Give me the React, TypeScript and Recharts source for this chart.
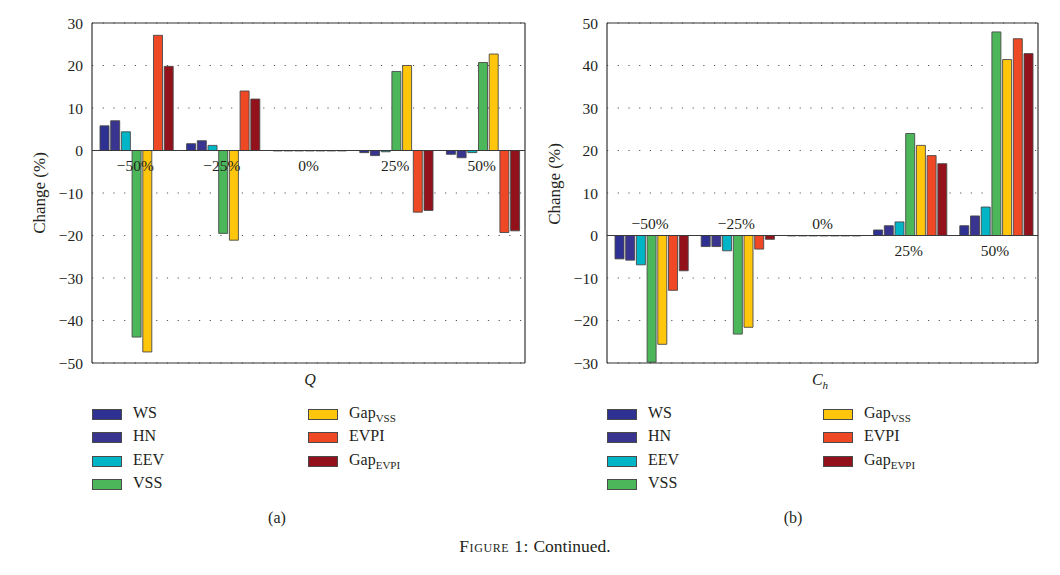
import React from 'react';
import {
  ComposedChart,
  Bar,
  Line,
  XAxis,
  YAxis,
  CartesianGrid,
  ReferenceLine,
  LabelList,
} from 'recharts';

// ---------- data ----------
const categories = ['−50%', '−25%', '0%', '25%', '50%'];

const qWS = [5.8, 1.6, -0.1, -0.5, -0.9];
const qHN = [7.0, 2.3, -0.1, -1.2, -1.7];
const qEEV = [4.4, 1.2, -0.1, -0.3, -0.5];
const qVSS = [-43.9, -19.5, -0.1, 18.6, 20.7];
const qGapVSS = [-47.4, -21.1, -0.1, 20.0, 22.7];
const qEVPI = [27.1, 14.0, -0.1, -14.5, -19.3];
const qGapEVPI = [19.8, 12.1, -0.1, -14.1, -18.9];

const chWS = [-5.5, -2.6, -0.1, 1.3, 2.3];
const chHN = [-5.8, -2.6, -0.1, 2.3, 4.6];
const chEEV = [-6.9, -3.6, -0.1, 3.2, 6.7];
const chVSS = [-29.8, -23.2, -0.1, 24.0, 47.9];
const chGapVSS = [-25.6, -21.6, -0.1, 21.2, 41.4];
const chEVPI = [-12.9, -3.2, -0.1, 18.8, 46.3];
const chGapEVPI = [-8.3, -0.9, -0.1, 16.9, 42.8];

const qTicks = [-50, -40, -30, -20, -10, 0, 10, 20, 30];
const chTicks = [-30, -20, -10, 0, 10, 20, 30, 40, 50];

const seriesKeys = ['WS', 'HN', 'EEV', 'VSS', 'GapVSS', 'EVPI', 'GapEVPI'];
const seriesBase = ['WS', 'HN', 'EEV', 'VSS', 'Gap', 'EVPI', 'Gap'];
const seriesSub = ['', '', '', '', 'VSS', '', 'EVPI'];
const seriesColors = ['#2E3192', '#38348F', '#00B5C6', '#4BB75A', '#FFC60B', '#EE4824', '#93111B'];

const qLabelBelow = [true, true, true, true, true];
const chLabelBelow = [false, false, false, true, true];

const minorTicks = Array.from({ length: 45 }, (_, i) => i);

const FONT = '"Liberation Serif", "DejaVu Serif", serif';
const INK = '#231f20';

function buildData(cols: number[][]) {
  return categories.map((c, i) => {
    const row: Record<string, any> = { cat: c, zero: 0 };
    seriesKeys.forEach((k, j) => {
      row[k] = cols[j][i];
    });
    return row;
  });
}

const qData = buildData([qWS, qHN, qEEV, qVSS, qGapVSS, qEVPI, qGapEVPI]);
const chData = buildData([chWS, chHN, chEEV, chVSS, chGapVSS, chEVPI, chGapEVPI]);

const fmtTick = (v: number) => (v < 0 ? '−' + Math.abs(v) : String(v));

function Panel({
  data,
  ticks,
  labelBelow,
  yWidth,
  rightMargin,
}: {
  data: any[];
  ticks: number[];
  labelBelow: boolean[];
  yWidth: number;
  rightMargin: number;
}) {
  const domain: [number, number] = [ticks[0], ticks[ticks.length - 1]];
  return (
    <ComposedChart
      width={532}
      height={400}
      data={data}
      margin={{ top: 15, right: rightMargin, bottom: 45, left: 0 }}
      barCategoryGap={8}
      barGap={1.7}
    >
      <CartesianGrid
        xAxisId="cat"
        yAxisId="main"
        vertical={false}
        stroke="#555"
        strokeDasharray="1.2 9.5"
      />
      <XAxis xAxisId="cat" dataKey="cat" type="category" hide />
      <XAxis
        xAxisId="minor"
        type="number"
        domain={[0, minorTicks.length - 1]}
        ticks={minorTicks}
        allowDataOverflow
        mirror
        tick={false}
        tickSize={3}
        axisLine={{ stroke: '#333', strokeWidth: 1.2 }}
        tickLine={{ stroke: '#666' }}
      />
      <YAxis
        yAxisId="main"
        type="number"
        domain={domain}
        ticks={ticks}
        allowDataOverflow
        width={yWidth}
        tickSize={0}
        tickMargin={9}
        tickFormatter={fmtTick}
        axisLine={{ stroke: '#333', strokeWidth: 1.2 }}
        tickLine={false}
        tick={{ fontFamily: FONT, fontSize: 15.5, fill: INK }}
      />
      <YAxis
        yAxisId="leftTicks"
        type="number"
        domain={domain}
        ticks={ticks}
        allowDataOverflow
        mirror
        tick={false}
        tickSize={4}
        axisLine={false}
        tickLine={{ stroke: '#555' }}
      />
      <YAxis
        yAxisId="rightTicks"
        orientation="right"
        type="number"
        domain={domain}
        ticks={ticks}
        allowDataOverflow
        mirror
        tick={false}
        tickSize={4}
        axisLine={{ stroke: '#333', strokeWidth: 1.2 }}
        tickLine={{ stroke: '#555' }}
      />
      <ReferenceLine xAxisId="cat" yAxisId="main" y={domain[1]} stroke="#333" strokeWidth={1.2} />
      {seriesKeys.map((k, j) => (
        <Bar
          key={k}
          xAxisId="cat"
          yAxisId="main"
          dataKey={k}
          fill={seriesColors[j]}
          stroke="#4a4a4a"
          strokeWidth={0.9}
          isAnimationActive={false}
        />
      ))}
      <ReferenceLine xAxisId="cat" yAxisId="main" y={0} stroke="#3a3a3a" strokeWidth={1} />
      <Line
        xAxisId="cat"
        yAxisId="main"
        dataKey="zero"
        stroke="none"
        dot={false}
        activeDot={false}
        isAnimationActive={false}
      >
        <LabelList
          dataKey="cat"
          content={(p: any) => {
            const idx = typeof p.index === 'number' ? p.index : categories.indexOf(p.value);
            const below = labelBelow[idx];
            return (
              <text
                x={p.x}
                y={p.y + (below ? 15 : -12)}
                textAnchor="middle"
                dominantBaseline="central"
                fontFamily={FONT}
                fontSize={15.5}
                fill={INK}
              >
                {p.value}
              </text>
            );
          }}
        />
      </Line>
    </ComposedChart>
  );
}

function LegendBlock({ left, top }: { left: number; top: number }) {
  const col1 = [0, 1, 2, 3];
  const col2 = [4, 5, 6];
  const item = (j: number, x: number, y: number) => (
    <div
      key={seriesKeys[j]}
      style={{ position: 'absolute', left: x, top: y, height: 0 }}
    >
      <div
        style={{
          position: 'absolute',
          left: 0,
          top: -5,
          width: 28,
          height: 9,
          background: seriesColors[j],
          border: '1px solid #4a4a4a',
        }}
      />
      <div
        style={{
          position: 'absolute',
          left: 41,
          top: -11,
          whiteSpace: 'nowrap',
          fontFamily: FONT,
          fontSize: 16,
          lineHeight: '20px',
          color: INK,
        }}
      >
        {seriesBase[j]}
        {seriesSub[j] ? (
          <span style={{ fontSize: 11, position: 'relative', top: 4 }}>{seriesSub[j]}</span>
        ) : null}
      </div>
    </div>
  );
  return (
    <div style={{ position: 'absolute', left, top }}>
      {col1.map((j, r) => item(j, 0, r * 23.3))}
      {col2.map((j, r) => item(j, 216, r * 23.3))}
    </div>
  );
}

function CenterText({
  x,
  y,
  children,
  style,
}: {
  x: number;
  y: number;
  children: React.ReactNode;
  style?: React.CSSProperties;
}) {
  return (
    <div
      style={{
        position: 'absolute',
        left: x,
        top: y,
        transform: 'translate(-50%, -50%)',
        whiteSpace: 'nowrap',
        fontFamily: FONT,
        fontSize: 15,
        color: INK,
        ...style,
      }}
    >
      {children}
    </div>
  );
}

export default function App() {
  return (
    <div style={{ position: 'relative', width: 1044, height: 559, background: '#fff' }}>
      <div style={{ position: 'absolute', left: 0, top: 0 }}>
        <Panel data={qData} ticks={qTicks} labelBelow={qLabelBelow} yWidth={84} rightMargin={15} />
      </div>
      <div style={{ position: 'absolute', left: 512, top: 0 }}>
        <Panel data={chData} ticks={chTicks} labelBelow={chLabelBelow} yWidth={87} rightMargin={14} />
      </div>

      <CenterText x={32} y={185} style={{ fontSize: 17, transform: 'translate(-50%, -50%) rotate(-90deg)' }}>
        Change (%)
      </CenterText>
      <CenterText x={547} y={176} style={{ fontSize: 17, transform: 'translate(-50%, -50%) rotate(-90deg)' }}>
        Change (%)
      </CenterText>

      <CenterText x={302} y={372} style={{ fontStyle: 'italic', fontSize: 16 }}>
        Q
      </CenterText>
      <CenterText x={812} y={372} style={{ fontStyle: 'italic', fontSize: 16 }}>
        C<span style={{ fontSize: 11, position: 'relative', top: 4 }}>h</span>
      </CenterText>

      <LegendBlock left={84} top={406} />
      <LegendBlock left={599} top={406} />

      <CenterText x={269} y={510} style={{ fontSize: 16 }}>(a)</CenterText>
      <CenterText x={785} y={510} style={{ fontSize: 16 }}>(b)</CenterText>
      <CenterText x={527} y={538} style={{ fontSize: 17.5 }}>
        <span style={{ fontVariant: 'small-caps', letterSpacing: 0.6 }}>Figure 1:</span> Continued.
      </CenterText>
    </div>
  );
}
